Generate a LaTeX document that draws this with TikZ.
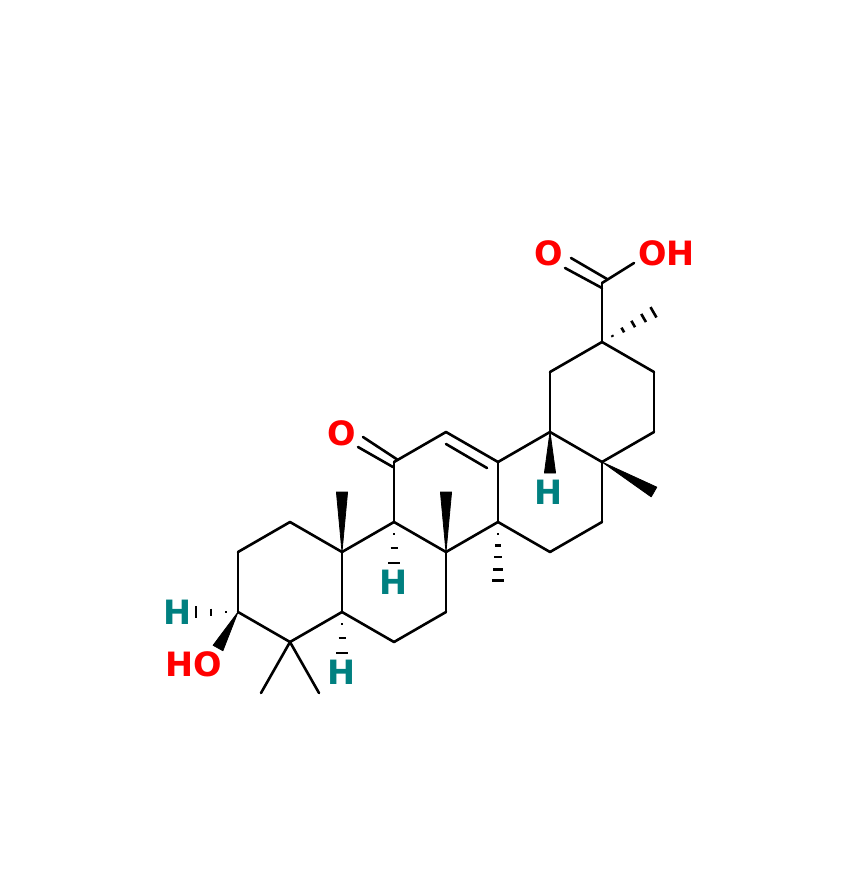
\documentclass[tikz,border=0pt]{standalone}
\usepackage{fontspec}
\setmainfont{DejaVu Sans}
\usetikzlibrary{calc}
\definecolor{atomH}{RGB}{0,128,128}
\definecolor{atomO}{RGB}{255,0,0}
\tikzset{
  bond/.style={draw=black,line width=2.6pt,line cap=round},
  solidwedge/.style={fill=black,draw=black,line width=0.8pt,line join=round},
  hashmark/.style={draw=black,line width=2.6pt,line cap=butt},
  lab/.style={inner sep=0pt,font=\fontsize{33.5pt}{33.5pt}\selectfont\bfseries},
  labH/.style={lab,text=atomH},
  labO/.style={lab,text=atomO}
}
% wedge from narrow end #1 to wide end #2
\newcommand{\wedgebond}[2]{\path[solidwedge] (#1) -- ($(#2)!5.6pt!90:(#1)$) -- ($(#2)!5.6pt!-90:(#1)$) -- cycle;}
% hash marks from #1 to #2 ; #3 = list of pos/halfwidth
\newcommand{\hashbond}[3]{\foreach \f/\w in {#3}{\draw[hashmark] ($($(#1)!\f!(#2)$)!\w pt!90:(#1)$) -- ($($(#1)!\f!(#2)$)!\w pt!-90:(#1)$);}}
\begin{document}
\begin{tikzpicture}[x=1pt,y=-1pt]
\useasboundingbox (0,0) rectangle (863,889);
% ring atoms
\coordinate (c1) at (290,522);
\coordinate (c2) at (238,552);
\coordinate (c3) at (238,612);
\coordinate (c4) at (290,642);
\coordinate (c5) at (342,612);
\coordinate (c6) at (394,642);
\coordinate (c7) at (446,612);
\coordinate (c8) at (446,552);
\coordinate (c9) at (394,522);
\coordinate (c10) at (342,552);
\coordinate (c11) at (394,462);
\coordinate (c12) at (446,432);
\coordinate (c13) at (498,462);
\coordinate (c14) at (498,522);
\coordinate (c15) at (550,552);
\coordinate (c16) at (602,522);
\coordinate (c17) at (602,462);
\coordinate (c18) at (550,432);
\coordinate (c19) at (550,372);
\coordinate (c20) at (602,342);
\coordinate (c21) at (654,372);
\coordinate (c22) at (654,432);
\coordinate (cooh) at (602,283);
% substituent ends
\coordinate (me4a) at (261,693);
\coordinate (me4b) at (319,693);
\coordinate (me10) at (342,492);
\coordinate (me8) at (446,492);
\coordinate (me14) at (498,581);
\coordinate (me17) at (654,492);
\coordinate (me20) at (654,312);
\coordinate (h18end) at (550,473);
\coordinate (h9end) at (394,564);
\coordinate (h5end) at (342,654);
\coordinate (h3end) at (195,612);
\coordinate (oh3end) at (218,648);
\coordinate (ohend) at (634,263);
\coordinate (o1a) at (571,258);
\coordinate (o1aa) at (607,279);
\coordinate (o1b) at (565,268);
\coordinate (o1bb) at (602,288);
\coordinate (o2a) at (363,437);
\coordinate (o2aa) at (398,460);
\coordinate (o2b) at (358,447);
\coordinate (o2bb) at (393,467);
\coordinate (in1) at (446,444);
\coordinate (in2) at (487,468);
% labels
\node[labO] (oa) at (549,253) {O};
\node[labO] (ob) at (666.5,253) {OH};
\node[labO] (oc) at (342,433) {O};
\node[labO] (oh3) at (194,664) {HO};
\node[labH] (h18) at (549,492) {H};
\node[labH] (h9) at (393.5,582) {H};
\node[labH] (h5) at (341.5,672) {H};
\node[labH] (h3) at (177.5,612) {H};
% plain bonds
\foreach \p/\q in {c1/c2,c2/c3,c3/c4,c4/c5,c5/c10,c10/c1,c5/c6,c6/c7,c7/c8,c8/c9,c9/c10,
  c9/c11,c11/c12,c12/c13,c13/c14,c14/c8,c14/c15,c15/c16,c16/c17,c17/c18,c18/c13,
  c18/c19,c19/c20,c20/c21,c21/c22,c22/c17,c20/cooh,cooh/ohend,c4/me4a,c4/me4b,
  o1a/o1aa,o1b/o1bb,o2a/o2aa,o2b/o2bb,in1/in2}
  {\draw[bond] (\p) -- (\q);}
% wedges
\wedgebond{c10}{me10}
\wedgebond{c8}{me8}
\wedgebond{c18}{h18end}
\wedgebond{c17}{me17}
\wedgebond{c3}{oh3end}
% hashes
\hashbond{c9}{h9end}{0.29/1,0.62/3.5,0.98/6}
\hashbond{c5}{h5end}{0.29/1,0.62/3.5,0.98/6}
\hashbond{c3}{h3end}{0.28/1,0.63/3.5,0.98/6}
\hashbond{c14}{me14}{0.2/1,0.4/2.7,0.59/3.7,0.8/4.7,0.99/6}
\hashbond{c20}{me20}{0.2/1,0.4/2.7,0.6/3.7,0.8/4.7,0.99/6}
\end{tikzpicture}
\end{document}
